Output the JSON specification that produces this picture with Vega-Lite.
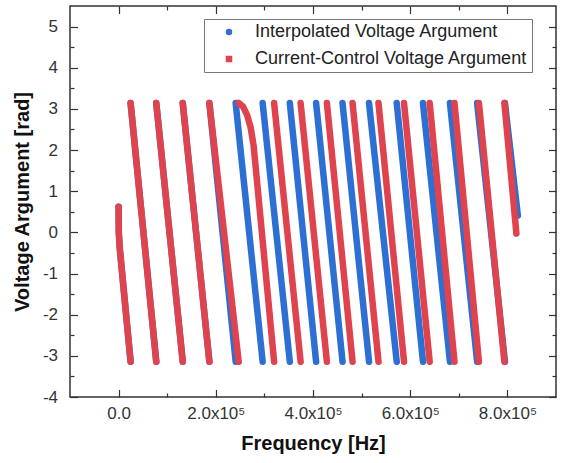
{
  "$schema": "https://vega.github.io/schema/vega-lite/v6.json",
  "width": 486,
  "height": 391,
  "autosize": {"type": "none"},
  "padding": {"left": 70, "top": 6, "right": 5, "bottom": 66},
  "background": "white",
  "config": {
    "font": "Liberation Sans",
    "view": {"stroke": "#333", "strokeWidth": 1.5}
  },
  "datasets": {
    "d": [
      {"series": "Interpolated Voltage Argument", "seg": "i0", "x": 0, "y": 0.62},
      {"series": "Interpolated Voltage Argument", "seg": "i0", "x": 400, "y": 0.0},
      {"series": "Interpolated Voltage Argument", "seg": "i0", "x": 2500, "y": -0.4},
      {"series": "Interpolated Voltage Argument", "seg": "i0", "x": 24700, "y": -3.1416},
      {"series": "Interpolated Voltage Argument", "seg": "i1", "x": 24700, "y": 3.1416},
      {"series": "Interpolated Voltage Argument", "seg": "i1", "x": 77500, "y": -3.1416},
      {"series": "Interpolated Voltage Argument", "seg": "i2", "x": 77500, "y": 3.1416},
      {"series": "Interpolated Voltage Argument", "seg": "i2", "x": 132000, "y": -3.1416},
      {"series": "Interpolated Voltage Argument", "seg": "i3", "x": 132000, "y": 3.1416},
      {"series": "Interpolated Voltage Argument", "seg": "i3", "x": 186800, "y": -3.1416},
      {"series": "Interpolated Voltage Argument", "seg": "i4", "x": 186800, "y": 3.1416},
      {"series": "Interpolated Voltage Argument", "seg": "i4", "x": 240900, "y": -3.1416},
      {"series": "Interpolated Voltage Argument", "seg": "i5", "x": 240900, "y": 3.1416},
      {"series": "Interpolated Voltage Argument", "seg": "i5", "x": 296400, "y": -3.1416},
      {"series": "Interpolated Voltage Argument", "seg": "i6", "x": 296400, "y": 3.1416},
      {"series": "Interpolated Voltage Argument", "seg": "i6", "x": 352300, "y": -3.1416},
      {"series": "Interpolated Voltage Argument", "seg": "i7", "x": 352300, "y": 3.1416},
      {"series": "Interpolated Voltage Argument", "seg": "i7", "x": 406400, "y": -3.1416},
      {"series": "Interpolated Voltage Argument", "seg": "i8", "x": 406400, "y": 3.1416},
      {"series": "Interpolated Voltage Argument", "seg": "i8", "x": 460800, "y": -3.1416},
      {"series": "Interpolated Voltage Argument", "seg": "i9", "x": 460800, "y": 3.1416},
      {"series": "Interpolated Voltage Argument", "seg": "i9", "x": 515300, "y": -3.1416},
      {"series": "Interpolated Voltage Argument", "seg": "i10", "x": 515300, "y": 3.1416},
      {"series": "Interpolated Voltage Argument", "seg": "i10", "x": 572300, "y": -3.1416},
      {"series": "Interpolated Voltage Argument", "seg": "i11", "x": 572300, "y": 3.1416},
      {"series": "Interpolated Voltage Argument", "seg": "i11", "x": 626300, "y": -3.1416},
      {"series": "Interpolated Voltage Argument", "seg": "i12", "x": 626300, "y": 3.1416},
      {"series": "Interpolated Voltage Argument", "seg": "i12", "x": 681800, "y": -3.1416},
      {"series": "Interpolated Voltage Argument", "seg": "i13", "x": 681800, "y": 3.1416},
      {"series": "Interpolated Voltage Argument", "seg": "i13", "x": 737700, "y": -3.1416},
      {"series": "Interpolated Voltage Argument", "seg": "i14", "x": 737700, "y": 3.1416},
      {"series": "Interpolated Voltage Argument", "seg": "i14", "x": 795000, "y": -3.1416},
      {"series": "Interpolated Voltage Argument", "seg": "i15", "x": 795000, "y": 3.1416},
      {"series": "Interpolated Voltage Argument", "seg": "i15", "x": 821500, "y": 0.41},
      {"series": "Current-Control Voltage Argument", "seg": "c0", "x": 0, "y": 0.62},
      {"series": "Current-Control Voltage Argument", "seg": "c0", "x": 400, "y": 0.0},
      {"series": "Current-Control Voltage Argument", "seg": "c0", "x": 2500, "y": -0.4},
      {"series": "Current-Control Voltage Argument", "seg": "c0", "x": 24700, "y": -3.1416},
      {"series": "Current-Control Voltage Argument", "seg": "c1", "x": 24700, "y": 3.1416},
      {"series": "Current-Control Voltage Argument", "seg": "c1", "x": 77500, "y": -3.1416},
      {"series": "Current-Control Voltage Argument", "seg": "c2", "x": 77500, "y": 3.1416},
      {"series": "Current-Control Voltage Argument", "seg": "c2", "x": 132000, "y": -3.1416},
      {"series": "Current-Control Voltage Argument", "seg": "c3", "x": 132000, "y": 3.1416},
      {"series": "Current-Control Voltage Argument", "seg": "c3", "x": 186800, "y": -3.1416},
      {"series": "Current-Control Voltage Argument", "seg": "c4", "x": 186800, "y": 3.1416},
      {"series": "Current-Control Voltage Argument", "seg": "c4", "x": 247100, "y": -3.1416},
      {"series": "Current-Control Voltage Argument", "seg": "c5", "x": 247100, "y": 3.1416},
      {"series": "Current-Control Voltage Argument", "seg": "c5", "x": 256300, "y": 3.05},
      {"series": "Current-Control Voltage Argument", "seg": "c5", "x": 264500, "y": 2.85},
      {"series": "Current-Control Voltage Argument", "seg": "c5", "x": 271700, "y": 2.55},
      {"series": "Current-Control Voltage Argument", "seg": "c5", "x": 277900, "y": 2.1},
      {"series": "Current-Control Voltage Argument", "seg": "c5", "x": 320000, "y": -3.1416},
      {"series": "Current-Control Voltage Argument", "seg": "c6", "x": 320000, "y": 3.1416},
      {"series": "Current-Control Voltage Argument", "seg": "c6", "x": 374500, "y": -3.1416},
      {"series": "Current-Control Voltage Argument", "seg": "c7", "x": 374500, "y": 3.1416},
      {"series": "Current-Control Voltage Argument", "seg": "c7", "x": 428600, "y": -3.1416},
      {"series": "Current-Control Voltage Argument", "seg": "c8", "x": 428600, "y": 3.1416},
      {"series": "Current-Control Voltage Argument", "seg": "c8", "x": 481400, "y": -3.1416},
      {"series": "Current-Control Voltage Argument", "seg": "c9", "x": 481400, "y": 3.1416},
      {"series": "Current-Control Voltage Argument", "seg": "c9", "x": 534800, "y": -3.1416},
      {"series": "Current-Control Voltage Argument", "seg": "c10", "x": 534800, "y": 3.1416},
      {"series": "Current-Control Voltage Argument", "seg": "c10", "x": 587300, "y": -3.1416},
      {"series": "Current-Control Voltage Argument", "seg": "c11", "x": 587300, "y": 3.1416},
      {"series": "Current-Control Voltage Argument", "seg": "c11", "x": 640100, "y": -3.1416},
      {"series": "Current-Control Voltage Argument", "seg": "c12", "x": 640100, "y": 3.1416},
      {"series": "Current-Control Voltage Argument", "seg": "c12", "x": 691100, "y": -3.1416},
      {"series": "Current-Control Voltage Argument", "seg": "c13", "x": 691100, "y": 3.1416},
      {"series": "Current-Control Voltage Argument", "seg": "c13", "x": 741400, "y": -3.1416},
      {"series": "Current-Control Voltage Argument", "seg": "c14", "x": 741400, "y": 3.1416},
      {"series": "Current-Control Voltage Argument", "seg": "c14", "x": 793800, "y": -3.1416},
      {"series": "Current-Control Voltage Argument", "seg": "c15", "x": 793800, "y": 3.1416},
      {"series": "Current-Control Voltage Argument", "seg": "c15", "x": 818500, "y": -0.03}
    ]
  },
  "resolve": {"scale": {"x": "independent", "y": "independent"}},
  "layer": [
    {
      "data": {"name": "d"},
      "encoding": {
        "x": {
          "field": "x", "type": "quantitative",
          "scale": {"domain": [-100000, 900000], "nice": false, "zero": false},
          "axis": {
            "title": "Frequency [Hz]", "titleFontSize": 20, "titleFontWeight": "bold", "titleColor": "#111",
            "titleX": 243, "titleY": 52, "titleAlign": "center", "titleBaseline": "alphabetic",
            "values": [0, 100000, 200000, 300000, 400000, 500000, 600000, 700000, 800000],
            "labelExpr": "datum.value % 200000 !== 0 ? '' : (datum.value === 0 ? '0.0' : format(datum.value / 100000, '.1f') + 'x10⁵')",
            "labelFontSize": 17, "labelColor": "#333", "labelPadding": 16, "labelOverlap": false, "labelFlush": false,
            "tickSize": -7.5,
            "tickDash": {"condition": {"test": "datum.value % 200000 === 0", "value": [20, 1]}, "value": [4, 20]},
            "tickColor": "#333", "tickWidth": 1.2, "domain": false, "grid": false
          }
        },
        "y": {
          "field": "y", "type": "quantitative",
          "scale": {"domain": [-4, 5.5], "nice": false, "zero": false},
          "axis": {
            "title": "Voltage Argument [rad]", "titleFontSize": 20, "titleFontWeight": "bold", "titleColor": "#111",
            "titleX": -42, "titleY": 195.5, "titleAngle": -90, "titleAlign": "center", "titleBaseline": "alphabetic",
            "values": [-4, -3.5, -3, -2.5, -2, -1.5, -1, -0.5, 0, 0.5, 1, 1.5, 2, 2.5, 3, 3.5, 4, 4.5, 5],
            "labelExpr": "datum.value % 1 !== 0 ? '' : '' + datum.value",
            "labelFontSize": 17, "labelColor": "#333", "labelPadding": 20, "labelOverlap": false, "labelFlush": false,
            "tickSize": -7.5,
            "tickDash": {"condition": {"test": "datum.value % 1 === 0", "value": [20, 1]}, "value": [4, 20]},
            "tickColor": "#333", "tickWidth": 1.2, "domain": false, "grid": false
          }
        }
      },
      "layer": [
        {
          "mark": {"type": "point", "filled": true, "size": 20, "opacity": 1},
          "encoding": {
            "color": {
              "field": "series", "type": "nominal",
              "scale": {"domain": ["Interpolated Voltage Argument", "Current-Control Voltage Argument"], "range": ["#2d6fd2", "#df434d"]},
              "legend": {"orient": "none", "legendX": 134, "legendY": 13, "title": null, "strokeColor": "#777", "fillColor": "white", "padding": 4, "symbolOffset": 12, "labelFontSize": 18, "labelColor": "#222", "labelOffset": 17, "labelLimit": 500, "rowPadding": 9, "symbolSize": 25}
            },
            "shape": {
              "field": "series", "type": "nominal",
              "scale": {"domain": ["Interpolated Voltage Argument", "Current-Control Voltage Argument"], "range": ["circle", "square"]},
              "legend": {"orient": "none", "legendX": 134, "legendY": 13, "title": null, "strokeColor": "#777", "fillColor": "white", "padding": 4, "symbolOffset": 12, "labelFontSize": 18, "labelColor": "#222", "labelOffset": 17, "labelLimit": 500, "rowPadding": 9, "symbolSize": 25}
            }
          }
        },
        {
          "transform": [{"filter": "datum.series === 'Interpolated Voltage Argument'"}],
          "mark": {"type": "line", "strokeWidth": 6.5, "strokeCap": "round", "strokeJoin": "round"},
          "encoding": {
            "detail": {"field": "seg", "type": "nominal"},
            "color": {"field": "series", "type": "nominal", "legend": null}
          }
        },
        {
          "transform": [{"filter": "datum.series === 'Current-Control Voltage Argument'"}],
          "mark": {"type": "line", "strokeWidth": 6.5, "strokeCap": "round", "strokeJoin": "round"},
          "encoding": {
            "detail": {"field": "seg", "type": "nominal"},
            "color": {"field": "series", "type": "nominal", "legend": null}
          }
        }
      ]
    },
    {
      "data": {"name": "d"},
      "mark": {"type": "point", "opacity": 0},
      "encoding": {
        "x": {
          "field": "x", "type": "quantitative",
          "scale": {"domain": [-100000, 900000], "nice": false, "zero": false},
          "axis": {
            "orient": "top", "title": null, "labels": false,
            "values": [0, 100000, 200000, 300000, 400000, 500000, 600000, 700000, 800000],
            "tickSize": -7.5,
            "tickDash": {"condition": {"test": "datum.value % 200000 === 0", "value": [20, 1]}, "value": [4, 20]},
            "tickColor": "#333", "tickWidth": 1.2, "domain": false, "grid": false
          }
        },
        "y": {
          "field": "y", "type": "quantitative",
          "scale": {"domain": [-4, 5.5], "nice": false, "zero": false},
          "axis": {
            "orient": "right", "title": null, "labels": false,
            "values": [-4, -3.5, -3, -2.5, -2, -1.5, -1, -0.5, 0, 0.5, 1, 1.5, 2, 2.5, 3, 3.5, 4, 4.5, 5],
            "tickSize": -7.5,
            "tickDash": {"condition": {"test": "datum.value % 1 === 0", "value": [20, 1]}, "value": [4, 20]},
            "tickColor": "#333", "tickWidth": 1.2, "domain": false, "grid": false
          }
        }
      }
    }
  ]
}
